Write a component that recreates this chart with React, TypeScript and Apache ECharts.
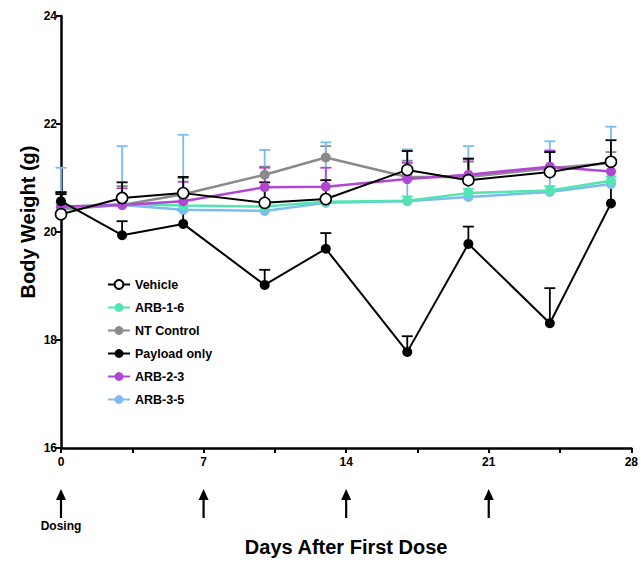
import React, { useEffect, useRef } from 'react';
import * as echarts from 'echarts';

const days = [0, 3, 6, 10, 13, 17, 20, 24, 27];
const dosingDays = [0, 7, 14, 21];

const vehicle = [20.33, 20.63, 20.72, 20.54, 20.61, 21.15, 20.96, 21.11, 21.30];
const vehicleErr = [0.41, 0.29, 0.30, 0.38, 0.35, 0.35, 0.40, 0.37, 0.40];

const arb16 = [20.46, 20.52, 20.49, 20.47, 20.56, 20.58, 20.72, 20.77, 20.95];
const arb16Err = [0.08, 0.08, 0.08, 0.08, 0.08, 0.08, 0.08, 0.08, 0.08];

const ntControl = [20.42, 20.50, 20.70, 21.06, 21.38, 21.02, 21.02, 21.18, 21.28];
const ntControlErr = [0.30, 0.35, 0.30, 0.15, 0.21, 0.30, 0.28, 0.30, 0.20];

const payload = [20.57, 19.94, 20.15, 19.02, 19.69, 17.78, 19.78, 18.31, 20.53];
const payloadErr = [0.13, 0.26, 0.25, 0.28, 0.29, 0.29, 0.32, 0.65, 0.80];

const arb23 = [20.47, 20.50, 20.57, 20.83, 20.84, 20.98, 21.06, 21.21, 21.12];
const arb23Err = [0.25, 0.31, 0.36, 0.36, 0.35, 0.30, 0.28, 0.30, 0.20];

const arb35 = [20.46, 20.50, 20.41, 20.39, 20.54, 20.57, 20.65, 20.74, 20.89];
const arb35Err = [0.73, 1.09, 1.39, 1.13, 1.12, 0.96, 0.94, 0.94, 1.06];

const legendOrder = ['Vehicle', 'ARB-1-6', 'NT Control', 'Payload only', 'ARB-2-3', 'ARB-3-5'];

const FONT = '"Liberation Sans", Arial, Helvetica, sans-serif';

function errSeries(name: string, vals: number[], errs: number[], color: string) {
  return {
    type: 'custom',
    name: name + ' error',
    silent: true,
    z: 1,
    clip: false,
    data: days.map((d, i) => [d, vals[i], vals[i] + errs[i]]),
    encode: { x: 0, y: [1, 2] },
    renderItem: (_params: any, api: any) => {
      const p0 = api.coord([api.value(0), api.value(1)]);
      const p1 = api.coord([api.value(0), api.value(2)]);
      return {
        type: 'group',
        children: [
          { type: 'line', shape: { x1: p0[0], y1: p0[1], x2: p1[0], y2: p1[1] }, style: { stroke: color, lineWidth: 1.8 } },
          { type: 'line', shape: { x1: p1[0] - 5.5, y1: p1[1], x2: p1[0] + 5.5, y2: p1[1] }, style: { stroke: color, lineWidth: 1.8 } },
        ],
      };
    },
  };
}

function lineSeries(name: string, vals: number[], color: string, width: number, size: number, z: number) {
  return {
    type: 'line',
    name,
    z,
    data: days.map((d, i) => [d, vals[i]]),
    symbol: 'circle',
    symbolSize: size,
    showSymbol: true,
    lineStyle: { color, width },
    itemStyle: { color },
  };
}

export default function App() {
  const ref = useRef<HTMLDivElement>(null);
  useEffect(() => {
    document.body.style.margin = '0';
    const chart = echarts.init(ref.current!, null, { renderer: 'svg' });
    const green = '#52E5B1';
    const gray = '#8A8A8A';
    const purple = '#B146D4';
    const blue = '#7DBBF0';
    const black = '#000000';

    const vehicleSeries: any = lineSeries('Vehicle', vehicle, black, 2, 11, 8);
    vehicleSeries.itemStyle = { color: '#ffffff', borderColor: '#000000', borderWidth: 1.6 };

    chart.setOption({
      animation: false,
      backgroundColor: '#ffffff',
      grid: { left: 61, right: 5, top: 16, bottom: 113, containLabel: false },
      legend: {
        data: legendOrder,
        orient: 'vertical',
        left: 102,
        top: 273,
        itemWidth: 22,
        itemHeight: 11,
        itemGap: 10,
        textStyle: { fontFamily: FONT, fontWeight: 'bold', fontSize: 12.5, color: '#000' },
        selectedMode: false,
      },
      xAxis: {
        type: 'value',
        min: 0,
        max: 28,
        interval: 3.5,
        name: 'Days After First Dose',
        nameLocation: 'middle',
        nameGap: 89,
        nameTextStyle: { fontFamily: FONT, fontWeight: 'bold', fontSize: 20, color: '#000' },
        axisLine: { show: true, onZero: false, lineStyle: { color: '#000', width: 2.5 } },
        axisTick: { show: true, length: 5, lineStyle: { color: '#000', width: 2 } },
        axisLabel: {
          formatter: (v: number) => (v % 7 === 0 ? String(v) : ''),
          fontFamily: FONT,
          fontWeight: 'bold',
          fontSize: 12,
          color: '#000',
          margin: 8,
        },
        splitLine: { show: false },
      },
      yAxis: {
        type: 'value',
        min: 16,
        max: 24,
        interval: 2,
        axisLine: { show: true, onZero: false, lineStyle: { color: '#000', width: 2.5 } },
        axisTick: { show: true, length: 5, lineStyle: { color: '#000', width: 2 } },
        axisLabel: { fontFamily: FONT, fontWeight: 'bold', fontSize: 12, color: '#000', margin: 4 },
        splitLine: { show: false },
      },
      series: [
        errSeries('NT Control', ntControl, ntControlErr, gray),
        errSeries('ARB-3-5', arb35, arb35Err, blue),
        errSeries('ARB-1-6', arb16, arb16Err, green),
        errSeries('ARB-2-3', arb23, arb23Err, purple),
        errSeries('Payload only', payload, payloadErr, black),
        errSeries('Vehicle', vehicle, vehicleErr, black),
        lineSeries('NT Control', ntControl, gray, 2.5, 10, 3),
        lineSeries('ARB-3-5', arb35, blue, 2.5, 10, 4),
        lineSeries('ARB-1-6', arb16, green, 2.5, 10, 5),
        lineSeries('ARB-2-3', arb23, purple, 2.5, 10, 6),
        lineSeries('Payload only', payload, black, 2, 10, 7),
        vehicleSeries,
      ],
    });

    const graphics: any[] = [];
    dosingDays.forEach((d) => {
      const x = chart.convertToPixel({ xAxisIndex: 0 }, d) as number;
      graphics.push({
        type: 'line',
        shape: { x1: x, y1: 497, x2: x, y2: 518 },
        style: { stroke: '#000', lineWidth: 2.2 },
      });
      graphics.push({
        type: 'polygon',
        shape: { points: [[x, 489], [x - 5, 500], [x + 5, 500]] },
        style: { fill: '#000' },
      });
    });
    const x0 = chart.convertToPixel({ xAxisIndex: 0 }, dosingDays[0]) as number;
    graphics.push({
      type: 'text',
      x: x0,
      y: 526,
      style: { text: 'Dosing', align: 'center', verticalAlign: 'middle', fontFamily: FONT, fontWeight: 'bold', fontSize: 12, fill: '#000' },
    });
    graphics.push({
      type: 'text',
      x: 28,
      y: 222,
      rotation: Math.PI / 2,
      style: { text: 'Body Weight (g)', align: 'center', verticalAlign: 'middle', fontFamily: FONT, fontWeight: 'bold', fontSize: 20, fill: '#000' },
    });
    chart.setOption({ graphic: graphics });

    return () => chart.dispose();
  }, []);
  return <div ref={ref} style={{ width: 641, height: 562 }} />;
}
